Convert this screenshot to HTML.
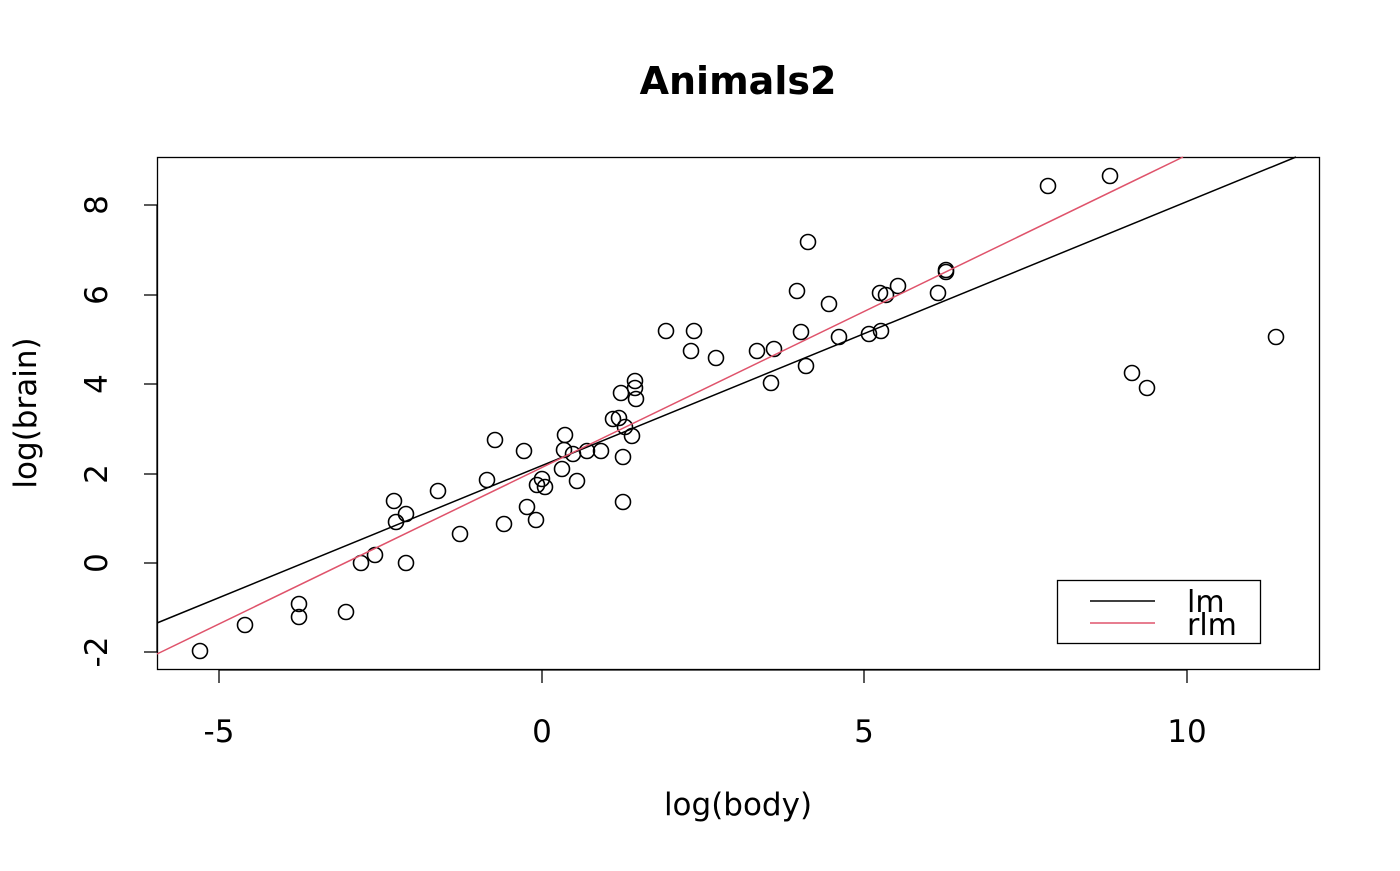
<!DOCTYPE html>
<html><head><meta charset="utf-8"><style>body{margin:0;background:#fff}</style></head><body>
<svg width="1400" height="866" xmlns="http://www.w3.org/2000/svg" font-family="DejaVu Sans, sans-serif">
<rect width="1400" height="866" fill="#fff"/>
<text x="738" y="94" font-size="38" font-weight="bold" text-anchor="middle">Animals2</text>
<rect x="157.5" y="157.5" width="1162" height="512" fill="none" stroke="#000" stroke-width="1.3"/>
<g stroke="#000" stroke-width="1.3">
<line x1="219" y1="670" x2="1187" y2="670"/>
<line x1="219" y1="670" x2="219" y2="683"/><line x1="542" y1="670" x2="542" y2="683"/><line x1="864" y1="670" x2="864" y2="683"/><line x1="1187" y1="670" x2="1187" y2="683"/>
<line x1="157" y1="205" x2="157" y2="652"/>
<line x1="157" y1="205" x2="144" y2="205"/><line x1="157" y1="295" x2="144" y2="295"/><line x1="157" y1="384" x2="144" y2="384"/><line x1="157" y1="474" x2="144" y2="474"/><line x1="157" y1="563" x2="144" y2="563"/><line x1="157" y1="652" x2="144" y2="652"/>
</g>
<g font-size="31" text-anchor="middle">
<text x="219" y="742">-5</text><text x="542" y="742">0</text><text x="864" y="742">5</text><text x="1187" y="742">10</text>
<text x="738" y="815">log(body)</text>
</g>
<g font-size="31" text-anchor="middle">
<text transform="translate(107,205) rotate(-90)">8</text>
<text transform="translate(107,295) rotate(-90)">6</text>
<text transform="translate(107,384) rotate(-90)">4</text>
<text transform="translate(107,474) rotate(-90)">2</text>
<text transform="translate(107,563) rotate(-90)">0</text>
<text transform="translate(107,652) rotate(-90)">-2</text>
<text transform="translate(36,413) rotate(-90)">log(brain)</text>
</g>
<g fill="none" stroke="#000" stroke-width="1.6">
<circle cx="200" cy="651" r="7.5"/><circle cx="245" cy="625" r="7.5"/><circle cx="299" cy="604" r="7.5"/><circle cx="299" cy="617" r="7.5"/><circle cx="346" cy="612" r="7.5"/><circle cx="361" cy="563" r="7.5"/><circle cx="375" cy="555" r="7.5"/><circle cx="394" cy="501" r="7.5"/><circle cx="396" cy="522" r="7.5"/><circle cx="406" cy="514" r="7.5"/><circle cx="406" cy="563" r="7.5"/><circle cx="438" cy="491" r="7.5"/><circle cx="460" cy="534" r="7.5"/><circle cx="487" cy="480" r="7.5"/><circle cx="495" cy="440" r="7.5"/><circle cx="504" cy="524" r="7.5"/><circle cx="524" cy="451" r="7.5"/><circle cx="527" cy="507" r="7.5"/><circle cx="536" cy="520" r="7.5"/><circle cx="537" cy="485" r="7.5"/><circle cx="542" cy="479" r="7.5"/><circle cx="545" cy="487" r="7.5"/><circle cx="562" cy="469" r="7.5"/><circle cx="564" cy="450" r="7.5"/><circle cx="565" cy="435" r="7.5"/><circle cx="573" cy="454" r="7.5"/><circle cx="577" cy="481" r="7.5"/><circle cx="587" cy="451" r="7.5"/><circle cx="601" cy="451" r="7.5"/><circle cx="613" cy="419" r="7.5"/><circle cx="619" cy="418" r="7.5"/><circle cx="621" cy="393" r="7.5"/><circle cx="623" cy="457" r="7.5"/><circle cx="623" cy="502" r="7.5"/><circle cx="625" cy="427" r="7.5"/><circle cx="632" cy="436" r="7.5"/><circle cx="635" cy="381" r="7.5"/><circle cx="635" cy="388" r="7.5"/><circle cx="636" cy="399" r="7.5"/><circle cx="666" cy="331" r="7.5"/><circle cx="691" cy="351" r="7.5"/><circle cx="694" cy="331" r="7.5"/><circle cx="716" cy="358" r="7.5"/><circle cx="757" cy="351" r="7.5"/><circle cx="771" cy="383" r="7.5"/><circle cx="774" cy="349" r="7.5"/><circle cx="797" cy="291" r="7.5"/><circle cx="801" cy="332" r="7.5"/><circle cx="806" cy="366" r="7.5"/><circle cx="808" cy="242" r="7.5"/><circle cx="829" cy="304" r="7.5"/><circle cx="839" cy="337" r="7.5"/><circle cx="869" cy="334" r="7.5"/><circle cx="880" cy="293" r="7.5"/><circle cx="881" cy="331" r="7.5"/><circle cx="886" cy="295" r="7.5"/><circle cx="898" cy="286" r="7.5"/><circle cx="938" cy="293" r="7.5"/><circle cx="946" cy="272" r="7.5"/><circle cx="946" cy="270" r="7.5"/><circle cx="1048" cy="186" r="7.5"/><circle cx="1110" cy="176" r="7.5"/><circle cx="1132" cy="373" r="7.5"/><circle cx="1147" cy="388" r="7.5"/><circle cx="1276" cy="337" r="7.5"/>
</g>
<line x1="157" y1="623" x2="1296" y2="157" stroke="#000" stroke-width="1.5"/>
<line x1="157" y1="654" x2="1183" y2="157" stroke="#DF536B" stroke-width="1.5"/>
<rect x="1057.5" y="580.5" width="203" height="63" fill="#fff" stroke="#000" stroke-width="1.3"/>
<line x1="1090" y1="601" x2="1155" y2="601" stroke="#000" stroke-width="1.5"/>
<line x1="1090" y1="623" x2="1155" y2="623" stroke="#DF536B" stroke-width="1.5"/>
<text x="1187" y="612" font-size="30">lm</text>
<text x="1187" y="635" font-size="30">rlm</text>
</svg>
</body></html>
